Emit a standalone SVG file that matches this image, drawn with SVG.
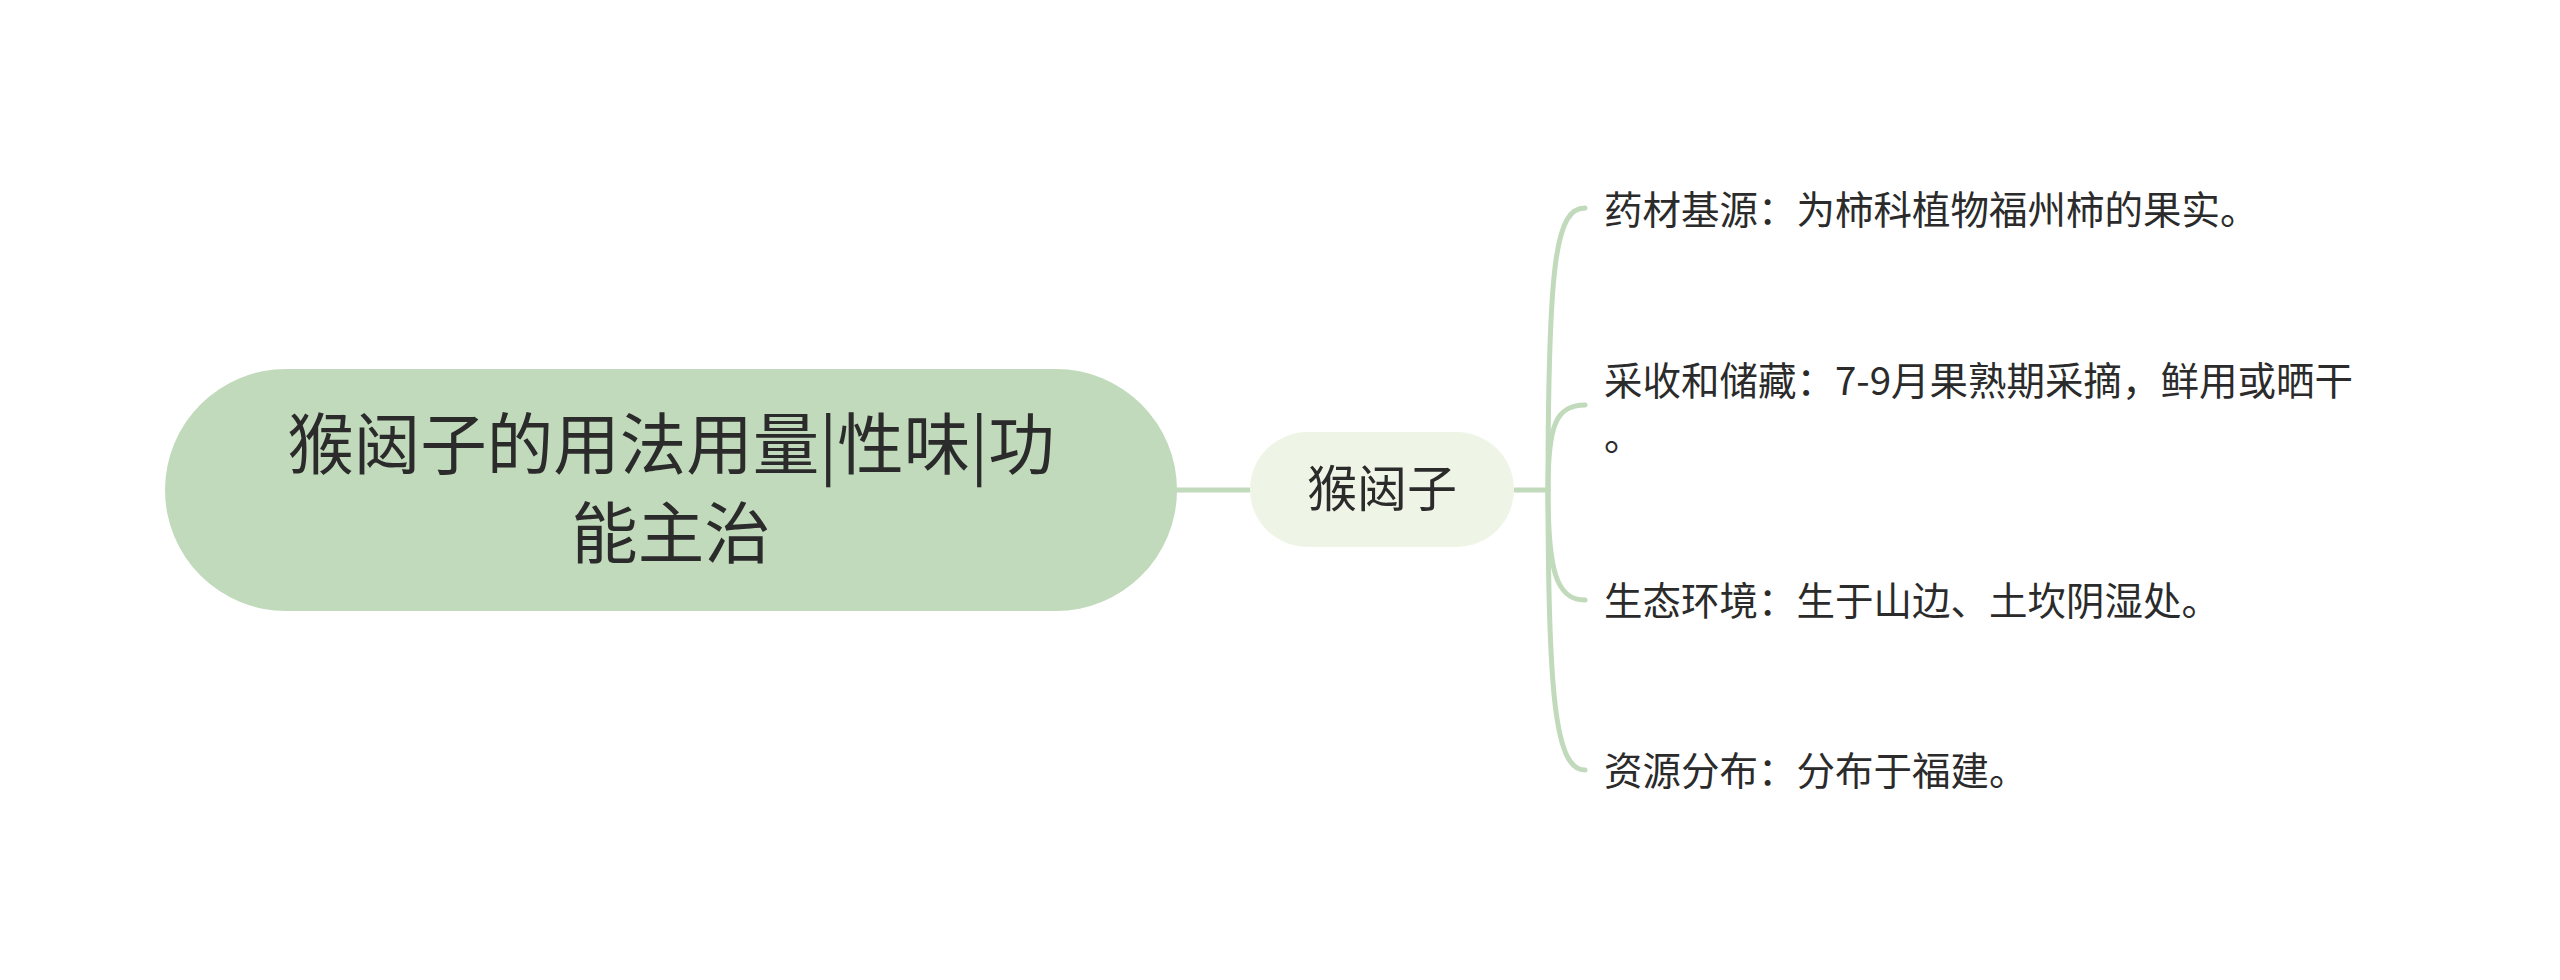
<svg xmlns="http://www.w3.org/2000/svg" width="2560" height="980" viewBox="0 0 2560 980">
<style>
.t{font-family:"Noto Sans CJK SC","Noto Sans",sans-serif;fill:#2b2b2b}
.root{font-size:66.5px}
.mid{font-size:50px}
.leaf{font-size:38.5px}
.c{fill:none;stroke:#c0dabb;stroke-width:5;stroke-linecap:round}
</style>
<rect width="2560" height="980" fill="#ffffff"/>
<g id="connectors">
<path class="c" d="M1177,490 L1249,490"/>
<path class="c" d="M1515,490 L1548,490"/>
<path class="c" d="M1548,490 C1548,260 1556,208 1585,208"/>
<path class="c" d="M1548,490 C1548,425 1556,405 1585,405"/>
<path class="c" d="M1548,490 C1548,570 1556,600 1585,600"/>
<path class="c" d="M1548,490 C1548,700 1556,770 1585,770"/>
</g>
<g id="root">
<rect x="165" y="369" width="1012" height="242" rx="121" fill="#c0dabb"/>
<text class="t root" x="671" y="469" text-anchor="middle">猴闼子的用法用量|性味|功</text>
<text class="t root" x="671" y="558" text-anchor="middle">能主治</text>
</g>
<g id="mid">
<rect x="1250" y="432" width="264" height="115" rx="57.5" fill="#eff5e6"/>
<text class="t mid" x="1382" y="507" text-anchor="middle">猴闼子</text>
</g>
<g id="leaf1">
<text class="t leaf" x="1604" y="224">药材基源：为柿科植物福州柿的果实。</text>
</g>
<g id="leaf2">
<text class="t leaf" x="1604" y="395">采收和储藏：7-9月果熟期采摘，鲜用或晒干</text>
<text class="t leaf" x="1604" y="450">。</text>
</g>
<g id="leaf3">
<text class="t leaf" x="1604" y="615">生态环境：生于山边、土坎阴湿处。</text>
</g>
<g id="leaf4">
<text class="t leaf" x="1604" y="785">资源分布：分布于福建。</text>
</g>
</svg>
